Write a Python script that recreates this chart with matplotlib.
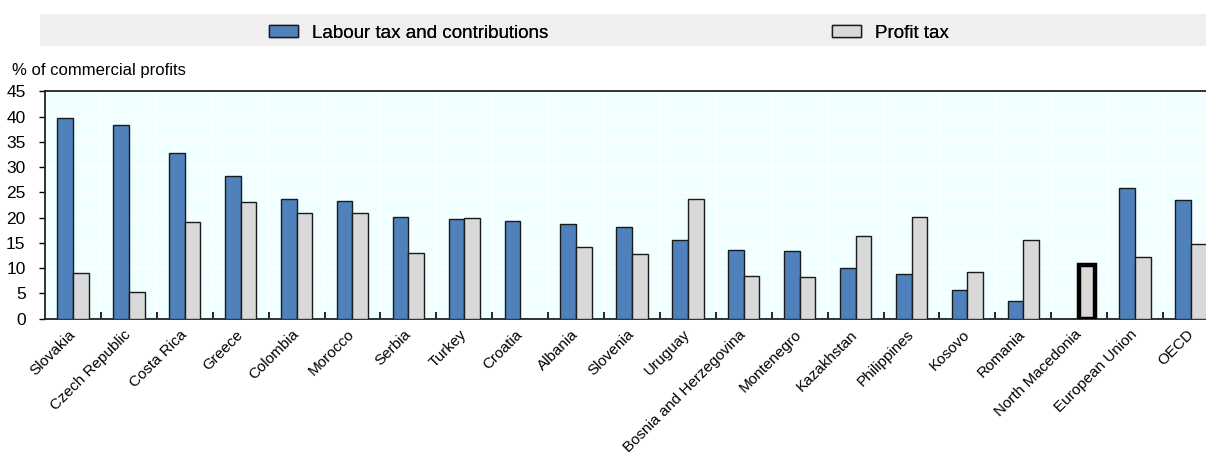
import numpy as np
import matplotlib.pyplot as plt
from matplotlib.patches import Patch, Rectangle

plt.rcParams['font.family'] = ['Liberation Sans', 'DejaVu Sans']

countries = ["Slovakia", "Czech Republic", "Costa Rica", "Greece", "Colombia", "Morocco",
             "Serbia", "Turkey", "Croatia", "Albania", "Slovenia", "Uruguay",
             "Bosnia and Herzegovina", "Montenegro", "Kazakhstan", "Philippines",
             "Kosovo", "Romania", "North Macedonia", "European Union", "OECD"]
labour = [39.7, 38.4, 32.8, 28.3, 23.6, 23.3, 20.2, 19.7, 19.4, 18.7, 18.2, 15.5,
          13.6, 13.4, 10.1, 8.9, 5.6, 3.4, 0.0, 25.8, 23.5]
profit = [9.05, 5.2, 19.2, 23.0, 21.0, 21.0, 13.0, 20.0, 0.0, 14.1, 12.7, 23.6,
          8.4, 8.3, 16.4, 20.2, 9.3, 15.5, 10.6, 12.2, 14.8]
highlight = "North Macedonia"

blue = "#4F81BD"
grey = "#D9D9D9"

W, H = 1206, 461
fig = plt.figure(figsize=(W / 100, H / 100), dpi=100)

# axes run past the right edge of the figure, as in the original
ax = fig.add_axes([45 / W, 1 - 318.5 / H, 1174 / W, (318.5 - 91.5) / H])
ax.set_facecolor("#F0FFFF")

x = np.arange(len(countries))
bw = 0.28
ax.bar(x - bw / 2, labour, bw, color=blue, edgecolor="#1a1a1a", linewidth=1.0, zorder=3)
bars = ax.bar(x + bw / 2, profit, bw, color=grey, edgecolor="#1a1a1a", linewidth=1.0, zorder=3)
i = countries.index(highlight)
bars[i].set_linewidth(3.2)
bars[i].set_edgecolor("black")

ax.set_xlim(-0.5, len(countries) - 0.5)
ax.set_ylim(0, 45)
ax.set_yticks(np.arange(0, 46, 5))
ax.set_xticks(x)
ax.set_xticklabels(countries, rotation=45, ha="right", va="center",
                   rotation_mode="anchor", fontsize=11)
ax.tick_params(axis="x", length=0, pad=10)
ax.set_xticks(np.arange(0.5, len(countries) - 1, 1), minor=True)
ax.tick_params(axis="x", which="minor", direction="in", length=5, width=1.2)
ax.tick_params(axis="y", direction="out", length=4, width=1.0, labelsize=12.5, pad=10)

ax.grid(axis="y", color="white", linewidth=1.3, zorder=1)
ax.grid(axis="x", which="minor", color="white", linewidth=1.3, zorder=1)
ax.set_axisbelow(True)

for s in ["top", "left", "bottom"]:
    ax.spines[s].set_linewidth(1.3)
    ax.spines[s].set_color("#222222")
ax.spines["right"].set_visible(False)

fig.text(12 / W, 1 - 70 / H, "% of commercial profits", fontsize=12, va="center")

# legend band
fig.patches.append(Rectangle((40 / W, 1 - 46.5 / H), 1 - 40 / W, 32.5 / H,
                             transform=fig.transFigure, facecolor="#EFEFEF",
                             edgecolor="none", zorder=0))
entries = [(Patch(facecolor=blue, edgecolor="#1a1a1a"), "Labour tax and contributions", 269),
           (Patch(facecolor=grey, edgecolor="#1a1a1a"), "Profit tax", 832)]
for handle, label, px in entries:
    leg = fig.legend(handles=[handle], labels=[label], loc="center left",
                     bbox_to_anchor=(px / W, 1 - 33 / H), frameon=False,
                     fontsize=13.5, handlelength=1.55, handleheight=0.6,
                     handletextpad=0.75, borderpad=0, borderaxespad=0)
    fig.add_artist(leg)

fig.savefig("out.png", dpi=100)
